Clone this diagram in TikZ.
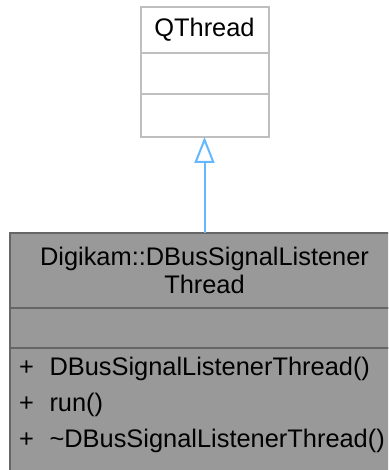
\documentclass[tikz,border=0pt]{standalone}
\usepackage{fontspec}
\setmainfont{Liberation Sans}
\usepackage{tikz}
\usetikzlibrary{arrows.meta}
\usetikzlibrary{positioning}
\definecolor{basegray}{RGB}{191,191,191}
\definecolor{classfill}{RGB}{153,153,153}
\definecolor{classline}{RGB}{102,102,102}
\definecolor{inheritblue}{RGB}{99,184,255}

\begin{document}
\begin{tikzpicture}[x=1pt,y=-1pt,font=\fontsize{25.4}{28.5}\selectfont,
    basebox/.style={draw=basegray,fill=white,line width=2pt,outer sep=0pt,
      inner sep=0pt,minimum width=128},
    classbox/.style={draw=classline,fill=classfill,line width=2pt,outer sep=0pt,
      inner sep=0pt,minimum width=390},
    member/.style={anchor=base west,inner sep=0pt}]
    \useasboundingbox (0,0) rectangle (388,470);
    \clip (0,0) rectangle (388,470);
    % base class
    \node[basebox,minimum height=46] (qthread) at (204.5,30) {QThread};
    \node[basebox,minimum height=41,below=0pt of qthread] (qattr) {};
    \node[basebox,minimum height=43,below=0pt of qattr] (qmeth) {};
    % derived class
    \node[classbox,minimum height=75,align=center] (listener) at (204.5,270.5)
      {Digikam::DBusSignalListener\\Thread};
    \node[classbox,minimum height=40,below=0pt of listener] (lattr) {};
    \node[classbox,minimum height=137,below=0pt of lattr] (lmeth) {};
    \node[member] (m1) at (19,375) {+\hspace{15.5pt}DBusSignalListenerThread()};
    \node[member] (m2) at (19,411) {+\hspace{15.5pt}run()};
    \node[member] (m3) at (19,447) {+\hspace{15.5pt}\textasciitilde DBusSignalListenerThread()};
    % inheritance
    \draw[-{Triangle[open,length=26pt,width=20pt]},inheritblue,line width=2pt]
      (listener.north) -- (qmeth.south);
  \end{tikzpicture}
\end{document}
